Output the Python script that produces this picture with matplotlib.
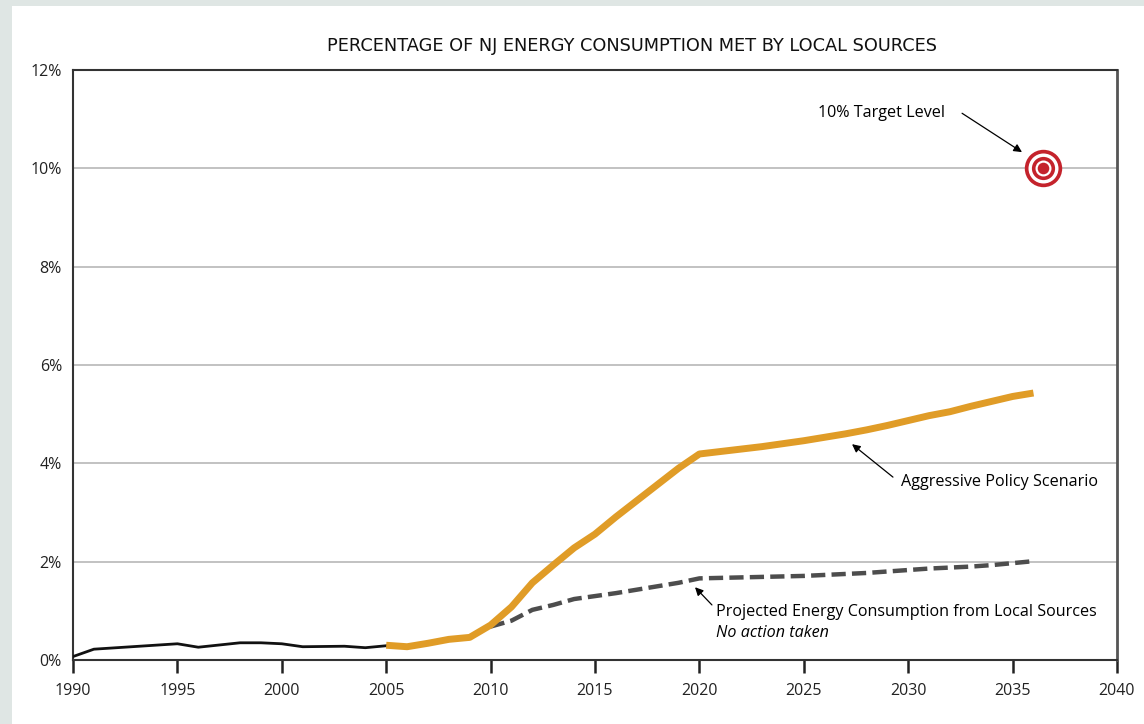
import numpy as np
import matplotlib.pyplot as plt

# historical share (black line)
hist_years = [1990, 1991, 1995, 1996, 1998, 1999, 2000, 2001, 2003, 2004, 2005]
hist_vals = [0.07, 0.22, 0.33, 0.26, 0.35, 0.35, 0.33, 0.27, 0.28, 0.25, 0.29]

# aggressive policy scenario (orange)
agg_years = list(range(2005, 2037))
agg_vals = [0.30, 0.27, 0.34, 0.42, 0.46, 0.71, 1.08, 1.57, 1.93, 2.28, 2.56,
            2.91, 3.24, 3.57, 3.90, 4.19, 4.24, 4.29, 4.34, 4.40, 4.46, 4.53,
            4.60, 4.68, 4.77, 4.87, 4.97, 5.05, 5.16, 5.26, 5.36, 5.43]

# no action taken (dashed)
base_years = list(range(2010, 2037))
base_vals = [0.68, 0.80, 1.02, 1.12, 1.24, 1.30, 1.36, 1.43, 1.50, 1.57, 1.66,
             1.67, 1.68, 1.69, 1.70, 1.71, 1.73, 1.75, 1.77, 1.80, 1.83, 1.86,
             1.88, 1.90, 1.93, 1.97, 2.01]

target_year = 2036.45
target_val = 10

xticks = list(range(1990, 2041, 5))
yticks = [0, 2, 4, 6, 8, 10, 12]
ytick_labels = ['0%', '2%', '4%', '6%', '8%', '10%', '12%']

plt.rcParams['font.family'] = ['Open Sans', 'DejaVu Sans']

def main():
    fig = plt.figure(figsize=(11.44, 7.24), dpi=100, facecolor='white')
    # grey frame strips (left and top)
    frame = '#dfe6e4'
    fig.add_artist(plt.Rectangle((0, 0), 12/1144, 1, transform=fig.transFigure,
                                 facecolor=frame, edgecolor='none', zorder=-5))
    fig.add_artist(plt.Rectangle((0, 1 - 6/724), 1, 6/724, transform=fig.transFigure,
                                 facecolor=frame, edgecolor='none', zorder=-5))
    ax = fig.add_axes([73/1144, 1 - 660/724, (1117 - 73)/1144, (660 - 70)/724])

    for y in [2, 4, 6, 8, 10]:
        ax.axhline(y, color='#bdbdbd', lw=1.3, zorder=1)

    ax.plot(hist_years, hist_vals, color='#111111', lw=2, zorder=3)
    ax.plot(base_years, base_vals, color='#4d4d4d', lw=3.2, ls=(0, (3.2, 1.4)), zorder=3)
    ax.plot(agg_years, agg_vals, color='#e09c27', lw=5, zorder=4, solid_capstyle='butt')

    # target marker
    red = '#c4232c'
    for r, c in [(18.7, red), (15.0, 'white'), (11.6, red), (8.0, 'white'), (5.8, red)]:
        ax.plot([target_year], [target_val], marker='o', ms=2 * r * 0.72,
                mfc=c, mec='none', zorder=5, clip_on=False)

    ax.set_xlim(1990, 2040)
    ax.set_ylim(0, 12)
    ax.set_xticks(xticks)
    ax.set_yticks(yticks)
    ax.tick_params(axis='x', direction='out', length=9.5, width=1.8, color='#222222',
                   pad=7, labelsize=11.5, labelcolor='#222222')
    ax.tick_params(axis='y', direction='out', length=0, pad=8, labelsize=11.5,
                   labelcolor='#222222')
    ax.set_yticklabels(ytick_labels)
    for s in ['left', 'bottom', 'top']:
        ax.spines[s].set_color('#333333')
        ax.spines[s].set_linewidth(1.5)
    ax.spines['right'].set_color('#555555')
    ax.spines['right'].set_linewidth(2)

    arrow = dict(arrowstyle='-|>', color='black', lw=0.9, mutation_scale=12, shrinkA=0, shrinkB=0)
    fs = 11.6
    ax.annotate('', xy=(2035.45, 10.33), xytext=(2032.58, 11.12), arrowprops=arrow)
    ax.text(2031.76, 11.12, '10% Target Level', fontsize=fs, ha='right', va='center')
    ax.annotate('', xy=(2027.31, 4.39), xytext=(2029.27, 3.72), arrowprops=arrow)
    ax.text(2029.67, 3.62, 'Aggressive Policy Scenario', fontsize=fs, ha='left', va='center')
    ax.annotate('', xy=(2019.79, 1.48), xytext=(2020.6, 1.12), arrowprops=arrow)
    ax.text(2020.8, 0.98, 'Projected Energy Consumption from Local Sources', fontsize=fs,
            ha='left', va='center')
    ax.text(2020.8, 0.55, 'No action taken', fontsize=fs, style='italic', ha='left', va='center')

    fig.text(632/1144, 1 - 46/724, 'PERCENTAGE OF NJ ENERGY CONSUMPTION MET BY LOCAL SOURCES',
             fontsize=12.8, family='DejaVu Sans', ha='center', va='center', color='#111111')

    fig.savefig('out.png', dpi=100)

if __name__ == "__main__":
    main()
